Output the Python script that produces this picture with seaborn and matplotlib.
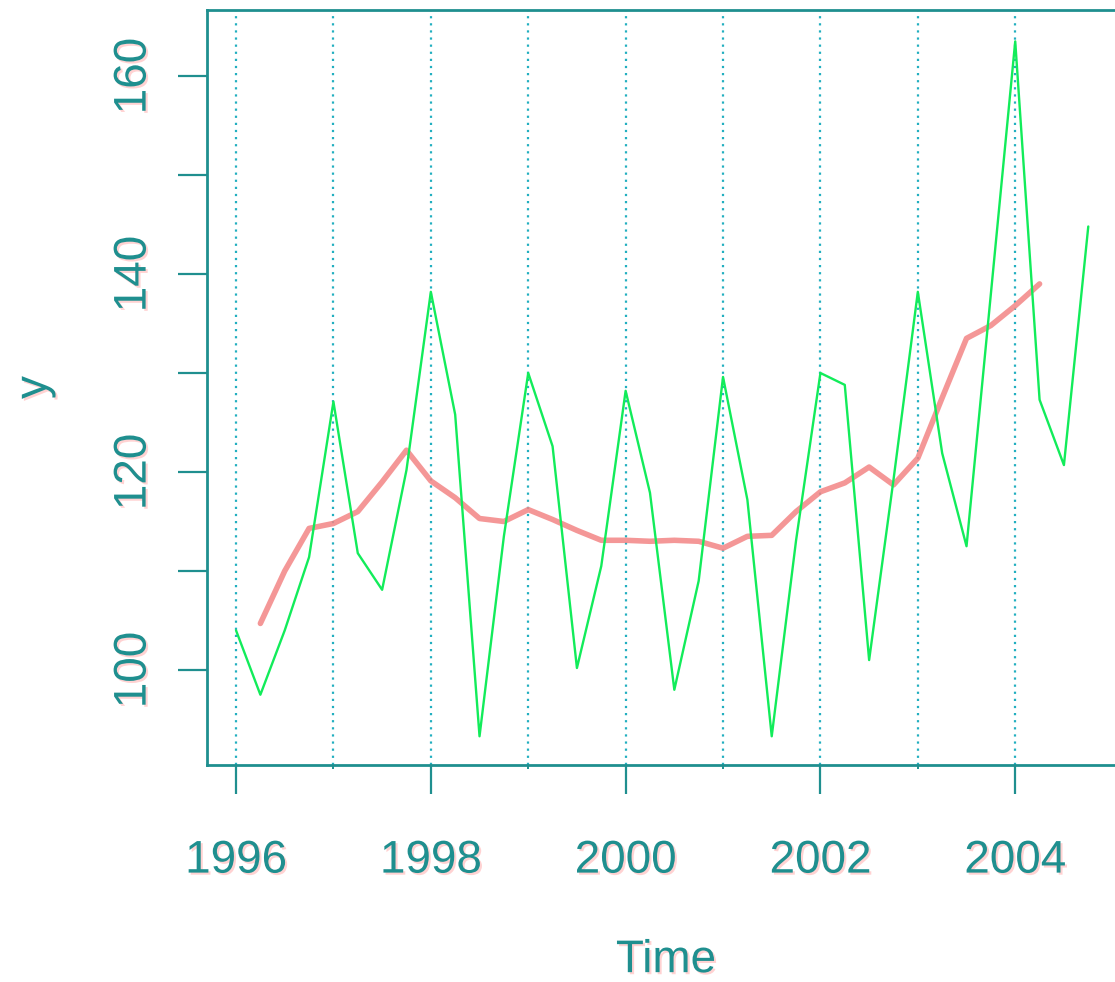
import matplotlib
matplotlib.use("Agg")
import matplotlib.pyplot as plt
import matplotlib.patheffects as pe
import seaborn as sns
import numpy as np
import pandas as pd

# ---- data ----
start_year = 1996.0
series_y = [104.0, 97.5, 104.0, 111.4,
            127.1, 111.8, 108.1, 120.2,
            138.2, 125.8, 93.3, 113.5,
            130.0, 122.6, 100.2, 110.5,
            128.2, 117.9, 98.0, 109.0,
            129.6, 117.2, 93.3, 113.1,
            130.0, 128.8, 101.0, 119.2,
            138.2, 121.9, 112.5, 138.0,
            163.5, 127.3, 120.7, 144.8]
ma_start = 1996.25
ma_y = [104.7, 110.0, 114.3,
        114.8, 116.0, 119.0, 122.2,
        119.1, 117.4, 115.3, 115.0,
        116.2, 115.2, 114.1, 113.1,
        113.1, 113.0, 113.1, 113.0,
        112.3, 113.5, 113.6, 116.0,
        118.0, 118.9, 120.5, 118.7,
        121.4, 127.5, 133.5, 134.8,
        136.8, 139.0]
year_lines = [1996, 1997, 1998, 1999, 2000, 2001, 2002, 2003, 2004]
x_major = [1996, 1998, 2000, 2002, 2004]
x_minor = [1997, 1999, 2001, 2003]
y_ticks = [100, 110, 120, 130, 140, 150, 160]
y_labels = ["100", "", "120", "", "140", "", "160"]

df = pd.DataFrame({"Time": start_year + 0.25 * np.arange(len(series_y)), "y": series_y})
dma = pd.DataFrame({"Time": ma_start + 0.25 * np.arange(len(ma_y)), "y": ma_y})

sns.set_style("white")
plt.rcParams['font.family'] = ['Liberation Sans', 'DejaVu Sans']

teal = '#1F8F8F'
fx = [pe.withSimplePatchShadow(offset=(1.5, -1.5), shadow_rgbFace='#ff8080', alpha=0.35)]

fig = plt.figure(figsize=(11.15, 9.82), dpi=100)
W, H = 1115, 982
ax = fig.add_axes([207 / W, 217 / H, (1125 - 207) / W, 755 / H])

for yr in year_lines:
    ax.axvline(yr, color='#22AFC0', linestyle=(0, (1, 2.2)), linewidth=1.6, zorder=1)

sns.lineplot(data=dma, x="Time", y="y", ax=ax, color='#F38585', linewidth=4.0,
             alpha=0.85, zorder=2)
sns.lineplot(data=df, x="Time", y="y", ax=ax, color='#12EC5A', linewidth=1.7, zorder=3)

ax.set_xlim(1995.702, 2005.127)
ax.set_ylim(90.40, 166.67)

for s in ['left', 'top', 'bottom']:
    ax.spines[s].set_color(teal)
    ax.spines[s].set_linewidth(2.0)
ax.spines['right'].set_visible(False)

ax.set_xticks(x_major)
ax.set_xticklabels([str(v) for v in x_major])
ax.set_xticks(x_minor, minor=True)
ax.set_yticks(y_ticks)
ax.set_yticklabels(y_labels, rotation=90, va='center')

ax.tick_params(axis='x', which='major', length=21, width=1.6, color=teal,
               labelsize=33, labelcolor=teal, pad=32, direction='out', bottom=True)
ax.tick_params(axis='x', which='minor', length=3, width=1.4, color=teal, bottom=True)
ax.tick_params(axis='y', which='major', length=21, width=1.6, color=teal,
               labelsize=33, labelcolor=teal, pad=16, direction='out', left=True)

for lab in ax.get_xticklabels() + ax.get_yticklabels():
    lab.set_path_effects(fx)

ax.set_xlabel("Time", fontsize=33, color=teal, labelpad=40)
ax.set_ylabel("y", fontsize=33, color=teal, labelpad=40)
ax.xaxis.label.set_path_effects(fx)
ax.yaxis.label.set_path_effects(fx)
ax.grid(False)

fig.savefig("out.png", dpi=100)
